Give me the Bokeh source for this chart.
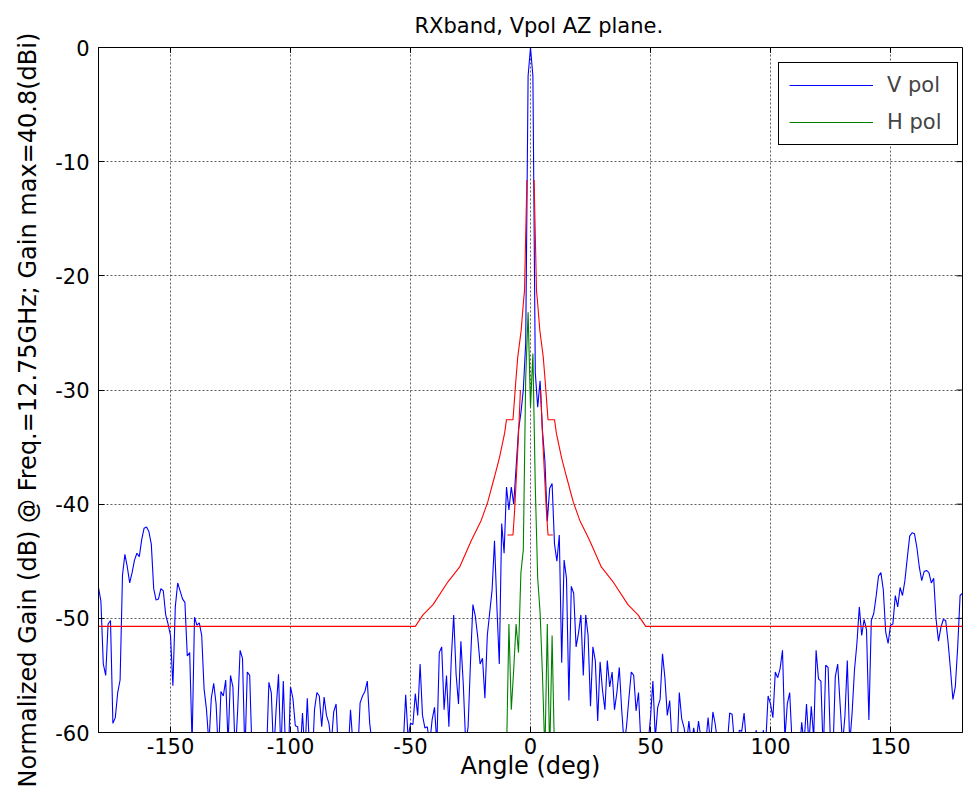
from bokeh.plotting import figure
from bokeh.models import (ColumnDataSource, FixedTicker, Legend, LegendItem,
                          Range1d, Title)
from bokeh.embed import file_html
from bokeh.resources import INLINE

# ---------------- data ----------------
# V pol pattern, one sample per degree from -180 to 180 (values below -60 are off-axis)
vpol_angle = list(range(-180, 181))
vpol_db = [
    -47.3, -48.5, -54.0, -55.0, -50.5, -50.2, -59.2, -58.7, -56.5, -55.4,   # -180..-171
    -46.2, -44.4, -45.5, -46.9, -46.0, -44.9, -44.3, -44.6, -43.1, -42.1,   # -170..-161
    -42.0, -42.4, -43.5, -47.4, -48.4, -48.3, -47.4, -47.6, -49.7, -50.5,   # -160..-151
    -51.5, -55.9, -49.0, -46.9, -47.6, -48.3, -48.6, -53.3, -53.0, -61.0,   # -150..-141
    -49.9, -50.6, -50.4, -51.5, -56.2, -58.0, -61.0, -57.0, -55.7, -57.5,   # -140..-131
    -62.0, -56.4, -56.8, -55.4, -61.0, -55.0, -56.0, -62.0, -58.0, -52.8,   # -130..-121
    -53.5, -62.0, -54.7, -55.0, -62.0, -63.0, -63.0, -63.0, -63.0, -63.0,   # -120..-111
    -62.0, -55.6, -56.5, -62.0, -58.0, -54.9, -62.0, -55.5, -62.0, -63.0,   # -110..-101
    -56.0, -57.0, -59.4, -59.5, -62.0, -58.3, -62.0, -57.0, -62.0, -63.0,   # -100..-91
    -58.0, -56.5, -56.8, -59.5, -56.9, -58.5, -59.2, -61.0, -58.2, -57.5,   # -90..-81
    -62.0, -63.0, -63.0, -62.0, -62.0, -58.0, -61.0, -63.0, -62.0, -57.4,   # -80..-71
    -56.8, -56.4, -55.5, -59.2, -61.0, -63.0, -62.0, -63.0, -63.0, -62.0,   # -70..-61
    -63.0, -63.0, -62.0, -63.0, -63.0, -62.0, -63.0, -61.0, -56.7, -60.5,   # -60..-51
    -59.2, -59.3, -56.6, -58.5, -54.0, -58.5, -59.6, -59.5, -61.0, -58.9,   # -50..-41
    -57.8, -61.0, -53.0, -52.5, -58.0, -55.0, -59.5, -53.5, -49.7, -54.9,   # -40..-31
    -57.5, -52.0, -55.8, -61.0, -59.5, -53.8, -48.8, -49.8, -51.6, -54.0,   # -30..-21
    -53.5, -57.0, -51.5, -49.5, -47.5, -43.2, -49.0, -54.0, -41.7, -44.3,   # -20..-11
    -38.5, -40.5, -38.5, -40.0, -36.8, -33.5, -32.0, -30.0, -25.9, -2.5,    # -10..-1
    0.0, -2.5, -28.5, -31.5, -29.2, -33.6, -36.2, -41.5, -38.6, -38.2,      # 0..9
    -43.5, -45.0, -42.7, -53.9, -44.9, -46.5, -57.2, -47.2, -47.8, -52.5,   # 10..19
    -51.3, -49.7, -55.0, -49.7, -51.5, -57.7, -52.5, -53.7, -59.0, -53.8,   # 20..29
    -56.3, -58.0, -53.7, -56.0, -54.7, -58.0, -56.5, -54.3, -58.0, -61.0,   # 30..39
    -59.5, -57.0, -54.7, -55.0, -58.1, -56.5, -61.0, -63.0, -62.0, -61.0,   # 40..49
    -58.7, -55.5, -60.5, -57.8, -57.1, -53.1, -55.2, -58.5, -57.2, -61.0,   # 50..59
    -63.0, -62.0, -56.5, -58.8, -59.6, -61.0, -59.0, -61.0, -59.6, -61.0,   # 60..69
    -59.0, -60.5, -62.0, -61.0, -58.7, -61.0, -58.2, -59.3, -61.0, -62.0,   # 70..79
    -63.0, -62.0, -61.0, -58.3, -58.4, -61.0, -62.0, -59.8, -59.9, -58.3,   # 80..89
    -61.0, -62.0, -63.0, -62.0, -59.8, -61.0, -62.0, -59.8, -61.0, -56.8,   # 90..99
    -57.5, -58.7, -54.7, -55.2, -54.4, -52.8, -60.5, -57.5, -56.5, -61.0,   # 100..109
    -62.0, -63.0, -62.0, -59.1, -61.0, -57.5, -61.0, -57.7, -60.5, -52.8,   # 110..119
    -55.3, -55.5, -62.0, -54.1, -54.3, -61.0, -62.0, -55.1, -54.0, -57.5,   # 120..129
    -61.0, -58.6, -53.7, -61.0, -58.3, -54.5, -52.2, -49.0, -51.5, -50.1,   # 130..139
    -51.0, -58.9, -50.2, -49.6, -48.1, -46.3, -46.0, -47.5, -51.2, -52.2,   # 140..149
    -50.6, -50.5, -48.0, -49.0, -47.3, -48.0, -46.7, -44.7, -42.8, -42.5,   # 150..159
    -42.6, -43.8, -45.5, -46.7, -45.9, -45.8, -46.0, -46.9, -46.5, -50.1,   # 160..169
    -52.0, -50.8, -50.1, -50.2, -52.1, -54.5, -57.1, -56.0, -52.5, -48.0,   # 170..179
    -47.8,                                                                  # 180
]

# H pol pattern (only visible near boresight)
hpol_angle = list(range(-10, 11))
hpol_db = [-62.0, -50.5, -58.0, -54.5, -50.5, -53.0, -46.0, -44.0, -29.0, -23.2,
           -31.5, -26.8, -38.5, -46.5, -49.5, -55.0, -62.0, -50.5, -62.0, -51.5, -62.0]

NAN = float("nan")
# Mask (red), outer staircase envelope; NaN separates the two halves
mask_angle = [-180, -48.0, -44.8, -40.6, -34.4, -29.5, -24.7, -20.5, -17.8, -15.0,
              -12.9, -10.8, -10.0, -7.3, -6.6, -6.0, -5.3, -3.9, -2.9, -2.5, -1.5,
              NAN,
              1.5, 2.5, 2.9, 3.9, 5.3, 6.0, 6.6, 7.3, 10.0, 10.8, 12.9, 15.0,
              17.8, 20.5, 24.7, 29.5, 34.4, 40.6, 44.8, 48.0, 180]
mask_db = [-50.7, -50.7, -49.7, -48.8, -46.8, -45.5, -43.2, -41.4, -39.8, -37.6,
           -35.9, -33.8, -32.6, -32.6, -30.6, -28.9, -27.1, -24.8, -22.2, -21.3, -11.6,
           NAN,
           -11.6, -21.3, -22.2, -24.8, -27.1, -28.9, -30.6, -32.6, -32.6, -33.8, -35.9, -37.6,
           -39.8, -41.4, -43.2, -45.5, -46.8, -48.8, -49.7, -50.7, -50.7]

# Inner red segments near boresight
inner_angle = [-9.6, -7.3, -6.6, -5.1, -4.2, NAN, 4.2, 5.1, 6.6, 7.3, 9.3]
inner_db = [-42.7, -42.7, -40.5, -34.4, -30.0, NAN, -30.0, -34.4, -40.5, -42.7, -42.7]

x_ticks = [-150, -100, -50, 0, 50, 100, 150]
y_ticks = [-60, -50, -40, -30, -20, -10, 0]

title_text = "RXband, Vpol AZ plane."
x_label = "Angle (deg)"
y_label = "Normalized Gain (dB) @ Freq.=12.75GHz; Gain max=40.8(dBi)"

FONT = "DejaVu Sans"
X0, X1, Y0, Y1 = -180, 180, -60, 0

# ---------------- figure ----------------
p = figure(width=963, height=807, x_range=Range1d(X0, X1), y_range=Range1d(Y0, Y1),
           output_backend="svg", toolbar_location=None,
           min_border_left=97, min_border_right=1, min_border_top=47, min_border_bottom=75,
           background_fill_color="white", border_fill_color="white")

p.title.text = title_text
p.title.align = "left"
p.title.offset = 316
p.title.text_font = FONT
p.title.text_font_size = "21px"
p.title.text_font_style = "normal"
p.title.text_color = "black"
p.title.standoff = 20

# y-axis title placed as a left-side title so it can be positioned like the reference
p.add_layout(Title(text=y_label, align="left", offset=-55, text_font=FONT,
                   text_font_size="24px", text_font_style="normal", text_color="black",
                   standoff=22), "left")

p.outline_line_color = "black"
p.outline_line_width = 1
p.outline_line_alpha = 1.0

for ax in p.xaxis:
    ax.ticker = FixedTicker(ticks=x_ticks)
    ax.axis_label = x_label
    ax.major_label_overrides = {t: str(t) for t in x_ticks}
for ax in p.yaxis:
    ax.ticker = FixedTicker(ticks=y_ticks)
    ax.major_label_overrides = {t: str(t) for t in y_ticks}

for ax in list(p.xaxis) + list(p.yaxis):
    ax.major_tick_in = 6
    ax.major_tick_out = 0
    ax.minor_tick_in = 0
    ax.minor_tick_out = 0
    ax.axis_line_color = "black"
    ax.major_tick_line_color = "black"
    ax.major_label_text_font = FONT
    ax.major_label_text_font_size = "21px"
    ax.major_label_text_color = "black"
    ax.axis_label_text_font = FONT
    ax.axis_label_text_font_size = "24px"
    ax.axis_label_text_font_style = "normal"
    ax.axis_label_text_color = "black"

p.yaxis.major_label_standoff = 9
p.xaxis.major_label_standoff = 5
p.xaxis.axis_label_standoff = -5

p.xgrid.ticker = FixedTicker(ticks=x_ticks)
p.ygrid.ticker = FixedTicker(ticks=y_ticks)
for g in (p.xgrid, p.ygrid):
    g.grid_line_color = "#4d4d4d"
    g.grid_line_dash = "2 2"
    g.grid_line_width = 1
    g.grid_line_alpha = 0.9

# small inward tick marks on the top and right edges (box style), from the tick lists
tick_dy = (Y1 - Y0) * 0.008
tick_dx = (X1 - X0) * 0.007
p.segment(x0=x_ticks, y0=[Y1] * len(x_ticks), x1=x_ticks, y1=[Y1 - tick_dy] * len(x_ticks),
          line_color="black", line_width=1)
p.segment(x0=[X1] * len(y_ticks), y0=y_ticks, x1=[X1 - tick_dx] * len(y_ticks), y1=y_ticks,
          line_color="black", line_width=1)

src_v = ColumnDataSource(data=dict(x=vpol_angle, y=vpol_db))
src_h = ColumnDataSource(data=dict(x=hpol_angle, y=hpol_db))
src_m = ColumnDataSource(data=dict(x=mask_angle, y=mask_db))
src_i = ColumnDataSource(data=dict(x=inner_angle, y=inner_db))

rv = p.line("x", "y", source=src_v, line_color="#0000ff", line_width=1.1)
rh = p.line("x", "y", source=src_h, line_color="#008000", line_width=1.1)
rm = p.line("x", "y", source=src_m, line_color="#ff0000", line_width=1.1)
ri = p.line("x", "y", source=src_i, line_color="#ff0000", line_width=1.1)

legend = Legend(items=[LegendItem(label="V pol", renderers=[rv]),
                       LegendItem(label="H pol", renderers=[rh])],
                location=(680, 587), orientation="vertical",
                border_line_color="black", border_line_width=1, border_line_alpha=1,
                background_fill_color="white", background_fill_alpha=1,
                label_text_font=FONT, label_text_font_size="21px",
                glyph_width=84, glyph_height=18, label_standoff=14, label_width=60,
                padding=10, spacing=13, margin=0)
p.add_layout(legend)

open("out.html", "w").write(file_html(p, INLINE))
